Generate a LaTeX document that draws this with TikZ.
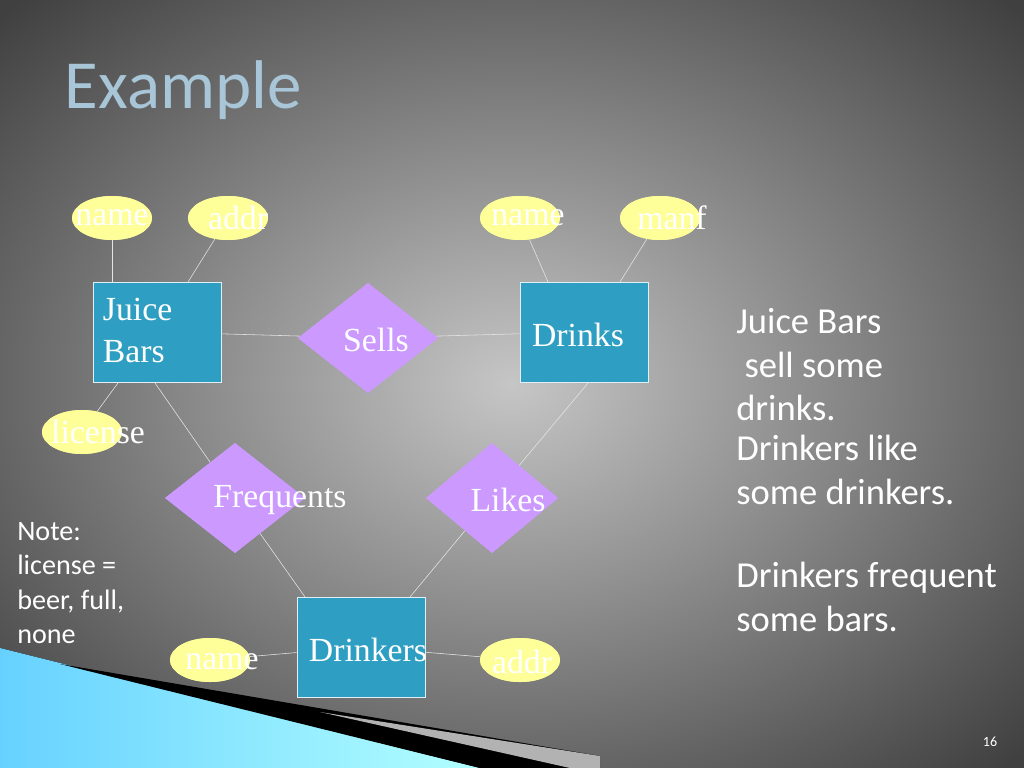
\documentclass[tikz,border=0pt]{standalone}
\usepackage{fontspec}
\setmainfont{Liberation Serif}
\newfontfamily\slidefont{Carlito}
\usetikzlibrary{shapes.geometric, positioning}
\definecolor{attrfill}{HTML}{FFFF99}
\definecolor{entfill}{HTML}{2E9EC2}
\definecolor{relfill}{HTML}{CC99FF}
\definecolor{titleblue}{HTML}{A8C6D8}
\tikzset{
  x=0.025cm, y=-0.025cm,
  attr/.style={ellipse, fill=attrfill, minimum width=2.0cm, minimum height=1.1cm, inner sep=0pt}, % yellow attribute ovals
  entity/.style={rectangle, draw=white!85!entfill, fill=entfill, minimum width=3.2cm, minimum height=2.5cm}, % entity boxes
  rel/.style={diamond, fill=relfill, minimum width=3.5cm, minimum height=2.75cm, inner sep=0pt}, % relationships
  lbl/.style={text=white, font=\fontsize{24}{30}\selectfont, align=left},
  side/.style={text=white, font=\slidefont\fontsize{26}{31}\selectfont, align=left, anchor=north west, inner sep=0pt},
  link/.style={draw=white!80!gray, thin},
}
\begin{document}
\begin{tikzpicture}
  \useasboundingbox (0,0) rectangle (1024,768);
  % background
  \fill[inner color=gray!45, outer color=black!75] (-200,-150) rectangle (1224,918);
  \fill[left color=cyan!70!blue!60, right color=cyan!30] (0,648) -- (480,768) -- (0,768) -- cycle;
  \fill[black] (60,664) -- (600,756) -- (600,768) -- (480,768) -- cycle;
  \fill[gray!60] (320,712) -- (600,756) -- (600,768) -- (570,768) -- cycle;
  \node[anchor=west, text=titleblue, font=\slidefont\fontsize{49}{55}\selectfont] (title) at (60,90) {Example};

  % entities
  \node[entity] (bars) at (157,332) {};
  \node[entity] (drinks) at (584,332) {};
  \node[entity] (drinkers) at (361,647) {};
  % relationships
  \node[rel] (sells) at (368,338) {};
  \node[rel] (freq) at (235,498) {};
  \node[rel, minimum width=3.3cm] (likes) at (492,498) {};
  % attributes
  \node[attr] (bname) at (112,218) {};
  \node[attr] (baddr) at (228,218) {};
  \node[attr] (dname) at (520,218) {};
  \node[attr] (manf) at (660,218) {};
  \node[attr] (license) at (82,432) {};
  \node[attr] (pname) at (210,660) {};
  \node[attr] (paddr) at (520,660) {};

  % connectors
  \draw[link] (bname) -- (bname |- bars.north);
  \draw[link] (baddr) -- (188,282);
  \draw[link] (bars) -- (sells);
  \draw[link] (sells) -- (drinks);
  \draw[link] (dname) -- (548,282);
  \draw[link] (manf) -- (620,282);
  \draw[link] (license) -- (118,383);
  \draw[link] (155,383) -- (freq);
  \draw[link] (588,383) -- (likes);
  \draw[link] (freq) -- (305,597);
  \draw[link] (likes) -- (410,597);
  \draw[link] (pname) -- (drinkers);
  \draw[link] (drinkers) -- (paddr);
  % redraw shapes above connectors
  \node[entity] at (bars) {};
  \node[entity] at (drinks) {};
  \node[entity] at (drinkers) {};
  \node[rel] at (sells) {};
  \node[rel] at (freq) {};
  \node[rel, minimum width=3.3cm] at (likes) {};
  \foreach \n in {bname,baddr,dname,manf,license,pname,paddr}
    \node[attr] at (\n) {};

  % labels
  \node[lbl, anchor=north west] (tbars) at (98,293) {Juice\\Bars};
  \node[lbl] (tdrinks) at (578,335) {Drinks};
  \node[lbl] (tdrinkers) at (368,650) {Drinkers};
  \node[lbl] (tsells) at (376,340) {Sells};
  \node[lbl] (tfreq) at (280,500) {Frequents};
  \node[lbl] (tlikes) at (508,500) {Likes};
  \node[lbl] (tbname) at (112,218) {name};
  \node[lbl] (tbaddr) at (238,218) {addr};
  \node[lbl] (tdname) at (528,218) {name};
  \node[lbl] (tmanf) at (672,218) {manf};
  \node[lbl] (tlicense) at (98,432) {license};
  \node[lbl] (tpname) at (222,662) {name};
  \node[lbl] (tpaddr) at (522,662) {addr};

  % side texts
  \node[side] (s1) at (736,308) {Juice Bars\\\ sell some\\drinks.};
  \node[side] (s2) at (736,435) {Drinkers like\\some drinkers.};
  \node[side] (s3) at (736,562) {Drinkers frequent\\some bars.};
  \node[side, font=\slidefont\fontsize{20}{24.5}\selectfont] (note) at (17,522) {Note:\\license =\\beer, full,\\none};
  \node[text=white, font=\slidefont\fontsize{10}{12}\selectfont] (page) at (990,742) {16};
\end{tikzpicture}
\end{document}
